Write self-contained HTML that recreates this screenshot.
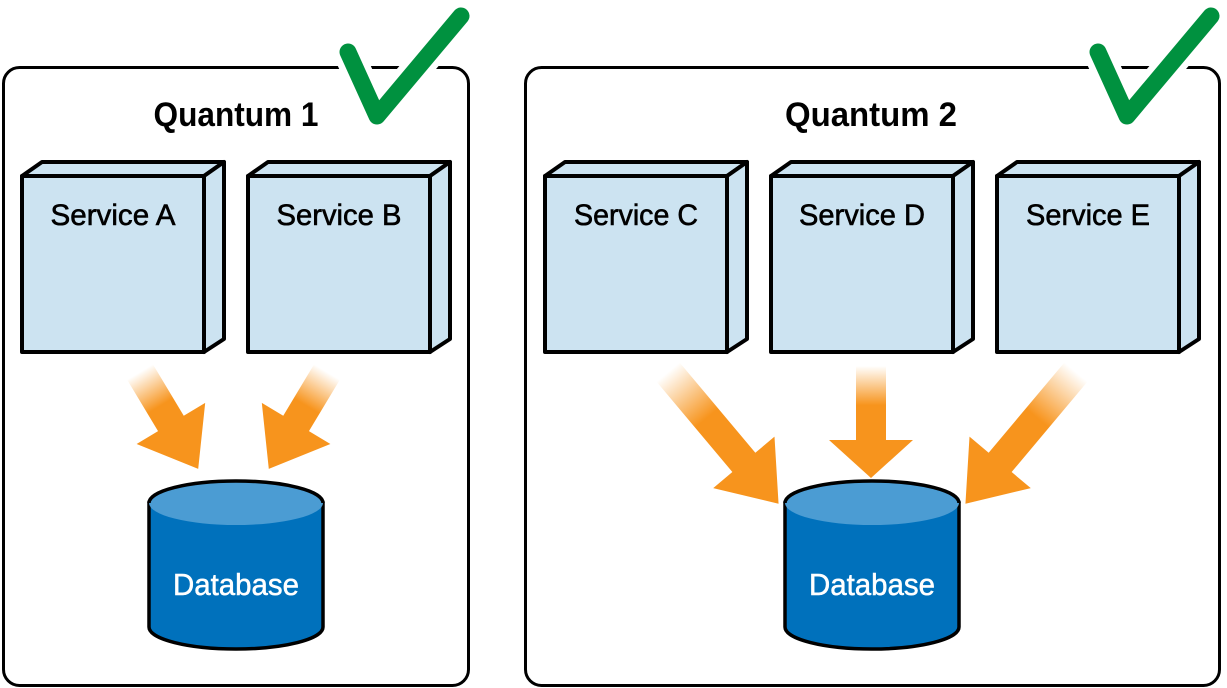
<!DOCTYPE html>
<html><head><style>html,body{margin:0;padding:0;background:#fff}svg{display:block}</style></head>
<body>
<svg width="1227" height="688" viewBox="0 0 1227 688" xmlns="http://www.w3.org/2000/svg" font-family="Liberation Sans, sans-serif">
<defs>
<linearGradient id="g" x1="0" y1="0" x2="0" y2="1">
<stop offset="0" stop-color="#f7941d" stop-opacity="0"/>
<stop offset="0.35" stop-color="#f7941d" stop-opacity="1"/>
<stop offset="1" stop-color="#f7941d"/>
</linearGradient>
</defs>
<rect x="3.5" y="67.5" width="465" height="618" rx="16" fill="#fff" stroke="#000" stroke-width="3"/>
<rect x="525.5" y="67.5" width="694" height="618" rx="16" fill="#fff" stroke="#000" stroke-width="3"/>
<g stroke-linecap="round" stroke-linejoin="round" fill="none">
<polyline points="348,52 377,116 461,16" stroke="#fff" stroke-width="30"/>
<polyline points="348,52 377,116 461,16" stroke="#00913f" stroke-width="17"/>
<polyline points="1098,52 1127,116 1211,16" stroke="#fff" stroke-width="30"/>
<polyline points="1098,52 1127,116 1211,16" stroke="#00913f" stroke-width="17"/>
</g>
<text x="236" y="126" font-size="34" font-weight="bold" text-anchor="middle" textLength="165" lengthAdjust="spacingAndGlyphs">Quantum 1</text>
<text x="871" y="126" font-size="34" font-weight="bold" text-anchor="middle" textLength="172" lengthAdjust="spacingAndGlyphs">Quantum 2</text>
<g stroke="#000" stroke-width="4" stroke-linejoin="round" fill="#cce3f1">
<g id="b">
<polygon points="22,176 42,162 224,162 204,176"/>
<polygon points="204,176 224,162 224,339 204,352"/>
<rect x="22" y="176" width="182" height="176"/>
</g>
<use href="#b" x="226"/>
<use href="#b" x="523"/>
<use href="#b" x="749"/>
<use href="#b" x="975"/>
</g>
<g font-size="30" text-anchor="middle" stroke="#000" stroke-width="0.6">
<text x="113" y="225" textLength="125" lengthAdjust="spacingAndGlyphs">Service A</text>
<text x="339" y="225" textLength="125" lengthAdjust="spacingAndGlyphs">Service B</text>
<text x="636" y="225" textLength="124" lengthAdjust="spacingAndGlyphs">Service C</text>
<text x="862" y="225" textLength="126" lengthAdjust="spacingAndGlyphs">Service D</text>
<text x="1088" y="225" textLength="124" lengthAdjust="spacingAndGlyphs">Service E</text>
</g>
<g fill="url(#g)">
<polygon transform="translate(140,372) rotate(-31)" points="-15,0 15,0 15,60 40,60 0,113 -40,60 -15,60"/>
<polygon transform="translate(327,372) rotate(31)" points="-15,0 15,0 15,60 40,60 0,113 -40,60 -15,60"/>
<polygon transform="translate(668,372) rotate(-40)" points="-15,0 15,0 15,118 40,118 0,172 -40,118 -15,118"/>
<polygon transform="translate(871,366) rotate(0)" points="-15,0 15,0 15,74 42,74 0,112 -42,74 -15,74"/>
<polygon transform="translate(1076,372) rotate(40)" points="-15,0 15,0 15,118 40,118 0,172 -40,118 -15,118"/>
</g>
<g id="db">
<path d="M149,503 L149,627 A87,22 0 0 0 323,627 L323,503 Z" fill="#0071bc" stroke="#000" stroke-width="3.5"/>
<path d="M149,503 A87,22 0 0 1 323,503 A87,22 0 0 1 149,503 Z" fill="#4b9cd3"/>
<path d="M149,503 A87,22 0 0 1 323,503" fill="none" stroke="#000" stroke-width="3.5"/>
</g>
<use href="#db" x="636"/>
<g font-size="31" fill="#fff" text-anchor="middle" stroke="#fff" stroke-width="0.5">
<text x="236" y="595" textLength="126" lengthAdjust="spacingAndGlyphs">Database</text>
<text x="872" y="595" textLength="126" lengthAdjust="spacingAndGlyphs">Database</text>
</g>
</svg>
</body></html>
